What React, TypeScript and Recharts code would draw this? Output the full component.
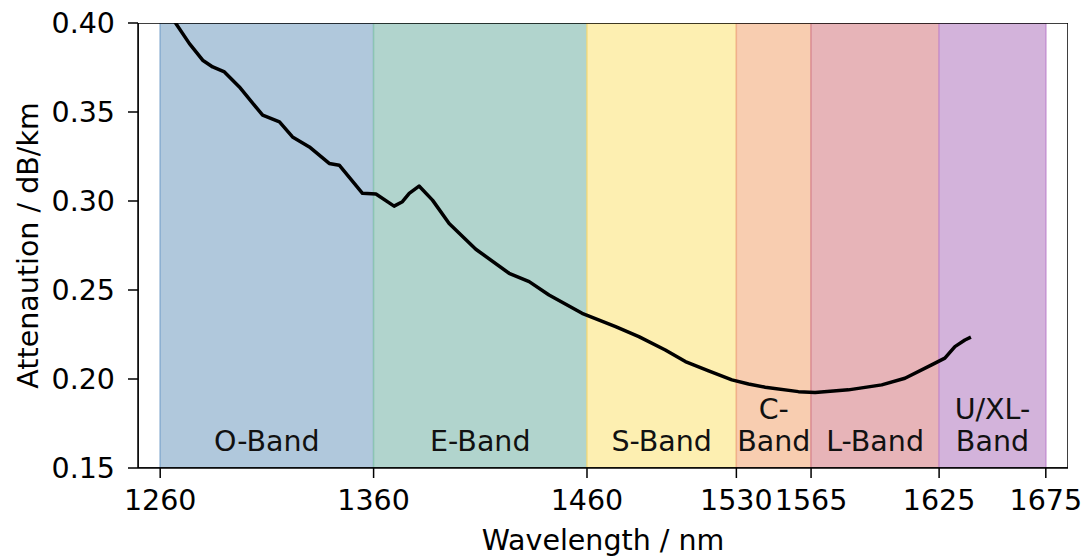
import { LineChart, Line, XAxis, YAxis, ReferenceArea, Label } from 'recharts';

const wavelengths = [
  1263, 1267.2, 1273.7, 1279.9, 1284.6, 1290.1, 1297.1, 1308, 1315.9, 1322, 1329.9, 1339.2, 1343.9,
  1354.8, 1361.1, 1369.6, 1373.5, 1376.7, 1381.3, 1387.6, 1395.4, 1407.9, 1423.5, 1432.9, 1442.2,
  1457.7, 1473.4, 1484.3, 1496.7, 1506.1, 1517, 1527.9, 1535.7, 1543.5, 1559.1, 1566.9, 1582.5,
  1598.1, 1609, 1621.5, 1627.7, 1632.4, 1637.1, 1639.9,
];
const attenuation = [
  0.4075, 0.4, 0.3884, 0.3791, 0.3753, 0.3725, 0.3641, 0.3482, 0.3444, 0.336, 0.3304, 0.3211, 0.3201,
  0.3043, 0.3039, 0.2971, 0.2996, 0.3043, 0.3084, 0.3005, 0.2874, 0.2729, 0.2594, 0.2547, 0.2472,
  0.2369, 0.2294, 0.2238, 0.2163, 0.2098, 0.2045, 0.1995, 0.1972, 0.1954, 0.1929, 0.1924, 0.1939,
  0.1967, 0.2004, 0.2079, 0.2117, 0.2182, 0.2219, 0.2235,
];

const bandNames = ['O-Band', 'E-Band', 'S-Band', 'C-\nBand', 'L-Band', 'U/XL-\nBand'];
const bandStarts = [1260, 1360, 1460, 1530, 1565, 1625];
const bandEnds = [1360, 1460, 1530, 1565, 1625, 1675];
const bandFills = ['#b0c8dc', '#b1d4cd', '#fdefb1', '#f8cdb0', '#e7b4b8', '#d3b3db'];
const bandEdges = ['#8aaed0', '#8cc4b4', '#f4dc84', '#f0b08c', '#da8f97', '#c694d2'];

const xTicks = [1260, 1360, 1460, 1530, 1565, 1625, 1675];
const yTicks = [0.15, 0.2, 0.25, 0.3, 0.35, 0.4];

const FONT = 'DejaVu Sans, sans-serif';
const FS = 28.5;
const X_DOMAIN: [number, number] = [1249.6, 1685.4];
const Y_DOMAIN: [number, number] = [0.15, 0.4];

const data = wavelengths.map((w, i) => ({ w, a: attenuation[i] }));

function BandLabel({ viewBox, text }: any) {
  if (!viewBox) return null;
  const lines = text.split('\n');
  const cx = viewBox.x + viewBox.width / 2;
  const baseline = viewBox.y + viewBox.height - 17;
  return (
    <text x={cx} textAnchor="middle" fontFamily={FONT} fontSize={FS} fill="#111">
      {lines.map((l: string, i: number) => (
        <tspan key={i} x={cx} y={baseline - (lines.length - 1 - i) * 32}>
          {l}
        </tspan>
      ))}
    </text>
  );
}

export default function App() {
  return (
    <div style={{ position: 'absolute', left: 0, top: 0, background: '#fff' }}>
      <LineChart width={1091} height={559} data={data} margin={{ top: 23, right: 23, bottom: 0, left: 0 }}>
        {bandNames.map((name, i) => (
          <ReferenceArea
            key={name}
            x1={bandStarts[i]}
            x2={bandEnds[i]}
            y1={Y_DOMAIN[0]}
            y2={Y_DOMAIN[1]}
            fill={bandFills[i]}
            fillOpacity={1}
            stroke={bandEdges[i]}
            strokeWidth={1.5}
            ifOverflow="hidden"
            label={<BandLabel text={name} />}
          />
        ))}
        <XAxis
          dataKey="w"
          type="number"
          domain={X_DOMAIN}
          allowDataOverflow
          ticks={xTicks}
          interval={0}
          height={91}
          tickSize={10}
          tickMargin={12}
          stroke="#000"
          tick={{ fill: '#000', fontSize: FS, fontFamily: FONT }}
          axisLine={{ stroke: '#000', strokeWidth: 1.5 }}
          tickLine={{ stroke: '#000', strokeWidth: 1.5 }}
        >
          <Label
            content={({ viewBox }: any) => (
              <text
                x={viewBox.x + viewBox.width / 2}
                y={550}
                textAnchor="middle"
                fontFamily={FONT}
                fontSize={FS}
                fill="#000"
              >
                Wavelength / nm
              </text>
            )}
          />
        </XAxis>
        <YAxis
          type="number"
          domain={Y_DOMAIN}
          allowDataOverflow
          ticks={yTicks}
          interval={0}
          width={138}
          tickSize={10}
          tickMargin={13}
          tickFormatter={(v: number) => v.toFixed(2)}
          tick={{ fill: '#000', fontSize: FS, fontFamily: FONT }}
          axisLine={{ stroke: '#000', strokeWidth: 1.5 }}
          tickLine={{ stroke: '#000', strokeWidth: 1.5 }}
        >
          <Label
            content={({ viewBox }: any) => {
              const cy = viewBox.y + viewBox.height / 2;
              return (
                <text
                  x={28}
                  y={cy}
                  transform={`rotate(-90, 28, ${cy})`}
                  textAnchor="middle"
                  dominantBaseline="central"
                  fontFamily={FONT}
                  fontSize={FS}
                  fill="#000"
                >
                  Attenaution / dB/km
                </text>
              );
            }}
          />
        </YAxis>
        <Line
          type="linear"
          dataKey="a"
          stroke="#000"
          strokeWidth={3.5}
          strokeLinejoin="round"
          dot={false}
          activeDot={false}
          isAnimationActive={false}
        />
        <ReferenceArea
          x1={X_DOMAIN[0]}
          x2={X_DOMAIN[1]}
          y1={Y_DOMAIN[0]}
          y2={Y_DOMAIN[1]}
          fill="none"
          stroke="#000"
          strokeWidth={1.5}
          ifOverflow="hidden"
        />
      </LineChart>
    </div>
  );
}
